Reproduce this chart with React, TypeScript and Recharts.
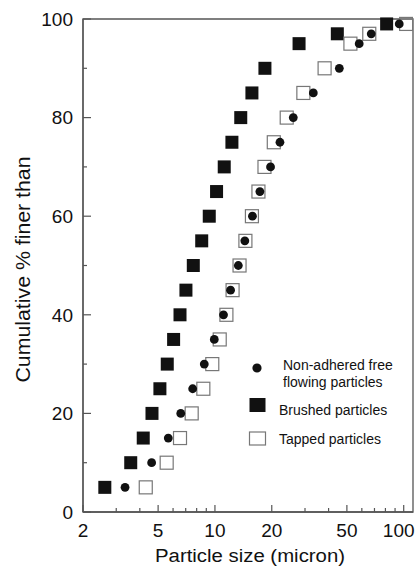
import { Legend, ReferenceArea, Scatter, ScatterChart, XAxis, YAxis } from "recharts";

const percentFiner = [5, 10, 15, 20, 25, 30, 35, 40, 45, 50, 55, 60, 65, 70, 75, 80, 85, 90, 95, 97, 99];

const freeFlowingSize = [3.34, 4.62, 5.66, 6.59, 7.62, 8.78, 9.92, 11.1, 12.1, 13.3, 14.4, 15.8, 17.3, 19.7, 22.1, 26.0, 33.2, 45.6, 58.1, 67.3, 94.7];
const brushedSize = [2.61, 3.58, 4.17, 4.64, 5.11, 5.59, 6.04, 6.53, 7.02, 7.68, 8.51, 9.33, 10.2, 11.2, 12.3, 13.7, 15.7, 18.4, 27.9, 44.5, 81.2];
const tappedSize = [4.3, 5.55, 6.53, 7.53, 8.68, 9.68, 10.6, 11.5, 12.4, 13.5, 14.5, 15.7, 17.0, 18.3, 20.5, 24.0, 29.4, 38.1, 52.2, 65.7, 103];

const xTicks = [2, 3, 4, 5, 6, 7, 8, 9, 10, 20, 30, 40, 50, 60, 70, 80, 90, 100];
const xTickLabels = [2, 5, 10, 20, 50, 100];
const yTicks = [0, 10, 20, 30, 40, 50, 60, 70, 80, 90, 100];
const yTickLabels = [0, 20, 40, 60, 80, 100];

const seriesNames = ["Non-adhered free flowing particles", "Brushed particles", "Tapped particles"];

const FONT = '"Liberation Sans", Arial, sans-serif';
const INK = "#111";
const AXIS = "#555";

function toPoints(sizes: number[]) {
    return sizes.map((size, i) => ({ size, percent: percentFiner[i] }));
}

function SizeTick({ x, y, payload }: any) {
    const major = xTickLabels.includes(payload.value);
    const shift = payload.value === 100 ? -5 : 0;
    return (
        <g>
            <line x1={x} x2={x} y1={y} y2={y - (major ? 7 : 4)} stroke={AXIS} strokeWidth={1.2} />
            {major && (
                <text x={x + shift} y={y + 25} textAnchor="middle" fontSize={19} fontFamily={FONT} fill={INK}>
                    {payload.value}
                </text>
            )}
        </g>
    );
}

function PercentTick({ x, y, payload }: any) {
    const major = yTickLabels.includes(payload.value);
    return (
        <g>
            <line x1={x} x2={x + (major ? 8 : 4)} y1={y} y2={y} stroke={AXIS} strokeWidth={1.2} />
            {major && (
                <text x={x - 10} y={y} dy="0.36em" textAnchor="end" fontSize={19} fontFamily={FONT} fill={INK}>
                    {payload.value}
                </text>
            )}
        </g>
    );
}

function XTitle({ viewBox }: any) {
    return (
        <text x={viewBox.x + viewBox.width / 2 + 2} y={viewBox.y + 50} textAnchor="middle" fontSize={18} fontFamily={FONT} fill={INK} textLength={190} lengthAdjust="spacingAndGlyphs">
            Particle size (micron)
        </text>
    );
}

function YTitle({ viewBox }: any) {
    const cx = 30;
    const cy = viewBox.y + viewBox.height / 2 + 4;
    return (
        <text x={cx} y={cy} transform={`rotate(-90, ${cx}, ${cy})`} textAnchor="middle" fontSize={20} fontFamily={FONT} fill={INK} textLength={226} lengthAdjust="spacingAndGlyphs">
            Cumulative % finer than
        </text>
    );
}

const FilledSquare = ({ cx, cy }: any) => <rect x={cx - 6.5} y={cy - 6.5} width={13} height={13} fill={INK} />;
const OpenSquare = ({ cx, cy }: any) => <rect x={cx - 6.5} y={cy - 6.5} width={13} height={13} fill="none" stroke="#777" strokeWidth={1.2} />;
const Dot = ({ cx, cy }: any) => <circle cx={cx} cy={cy} r={4.4} fill={INK} />;

function LegendBox() {
    return (
        <svg width={175} height={100} style={{ fontFamily: FONT }}>
            <circle cx={17} cy={16} r={4.6} fill={INK} />
            <text x={43} y={18} fontSize={14} fill={INK}>Non-adhered free</text>
            <text x={43} y={35} fontSize={14} fill={INK}>flowing particles</text>
            <rect x={9.5} y={46} width={16} height={14} fill={INK} />
            <text x={39} y={63} fontSize={14} fill={INK}>{seriesNames[1]}</text>
            <rect x={9.5} y={80} width={16} height={13} fill="none" stroke="#777" strokeWidth={1.2} />
            <text x={39} y={92} fontSize={14} fill={INK}>{seriesNames[2]}</text>
        </svg>
    );
}

export default function App() {
    return (
        <div style={{ position: "absolute", left: 0, top: 0 }}>
            <ScatterChart width={419} height={569} margin={{ top: 19, right: 6, bottom: 0, left: 0 }} style={{ fontFamily: FONT }}>
                <XAxis
                    dataKey="size"
                    type="number"
                    scale="log"
                    domain={[2, 112]}
                    allowDataOverflow
                    ticks={xTicks}
                    interval={0}
                    tickSize={0}
                    tickMargin={0}
                    tick={<SizeTick />}
                    height={57}
                    axisLine={{ stroke: AXIS, strokeWidth: 1.3 }}
                    label={<XTitle />}
                />
                <YAxis
                    dataKey="percent"
                    type="number"
                    domain={[0, 100]}
                    ticks={yTicks}
                    interval={0}
                    tickSize={0}
                    tickMargin={0}
                    tick={<PercentTick />}
                    width={83}
                    axisLine={{ stroke: AXIS, strokeWidth: 1.3 }}
                    label={<YTitle />}
                />
                <ReferenceArea x1={2} x2={112} y1={0} y2={100} fill="none" stroke={AXIS} strokeWidth={1.3} />
                <Scatter name={seriesNames[1]} data={toPoints(brushedSize)} shape={<FilledSquare />} isAnimationActive={false} />
                <Scatter name={seriesNames[2]} data={toPoints(tappedSize)} shape={<OpenSquare />} isAnimationActive={false} />
                <Scatter name={seriesNames[0]} data={toPoints(freeFlowingSize)} shape={<Dot />} isAnimationActive={false} />
                <Legend layout="vertical" align="center" verticalAlign="middle" content={<LegendBox />} wrapperStyle={{ left: 240, top: 352, width: 175, height: 100 }} />
            </ScatterChart>
        </div>
    );
}
